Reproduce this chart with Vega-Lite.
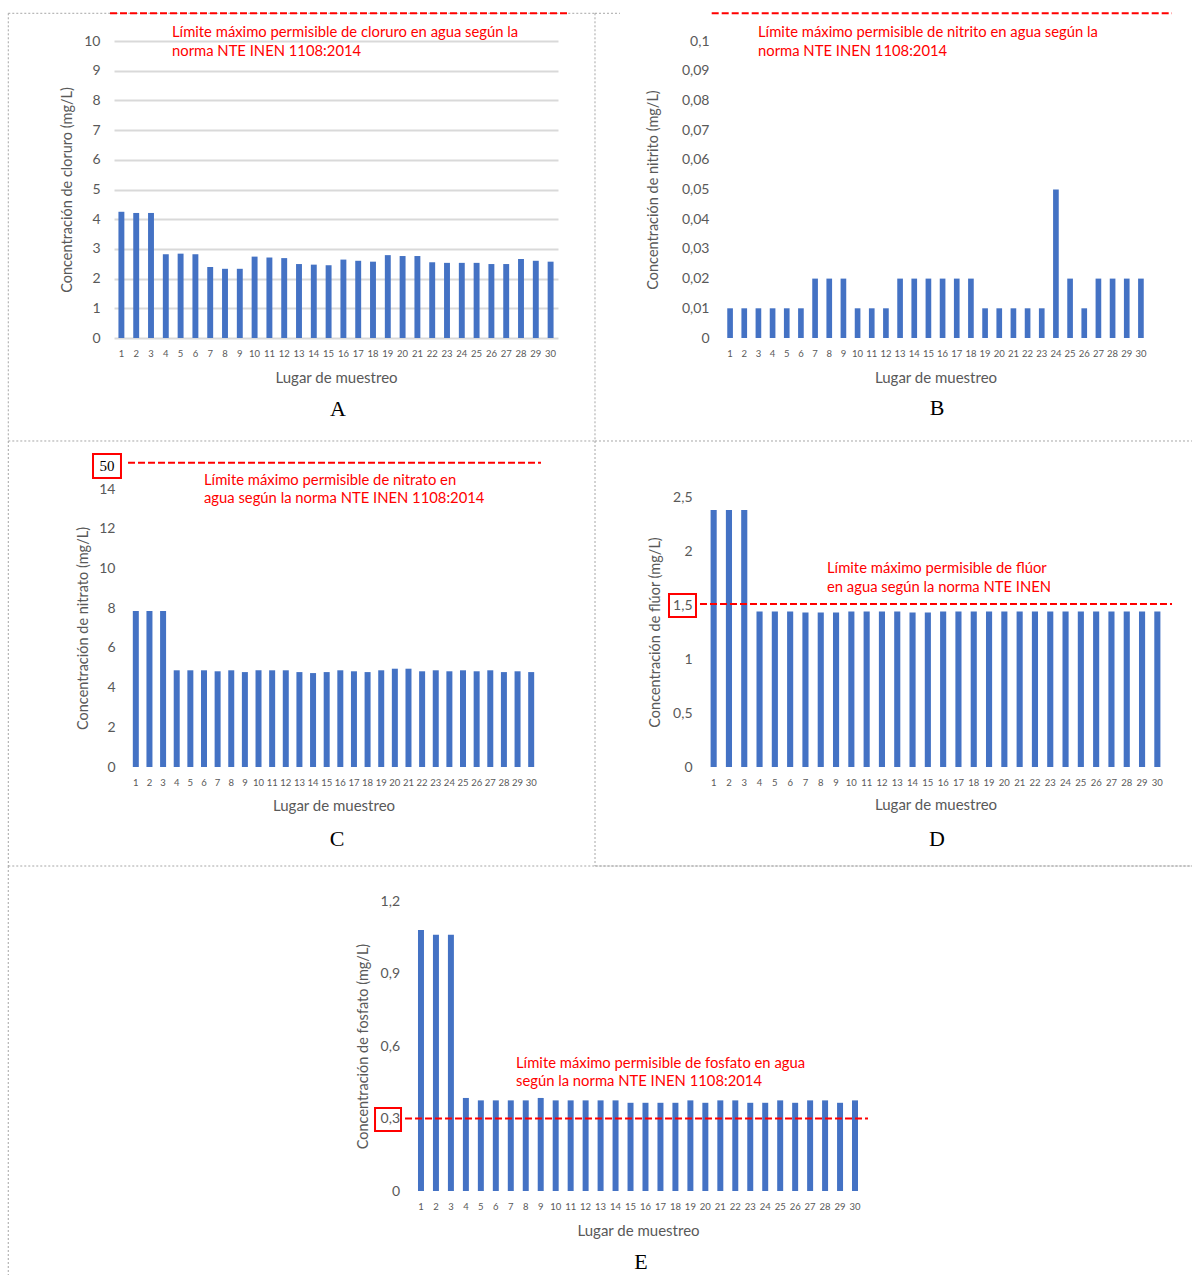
{
  "$schema": "https://vega.github.io/schema/vega-lite/v6.json",
  "width": 1192,
  "height": 1275,
  "autosize": "none",
  "padding": 0,
  "datasets": {
    "cloruro": [
      {"lugar": 1, "valor": 4.25}, {"lugar": 2, "valor": 4.21}, {"lugar": 3, "valor": 4.21}, {"lugar": 4, "valor": 2.82}, {"lugar": 5, "valor": 2.84}, {"lugar": 6, "valor": 2.82}, {"lugar": 7, "valor": 2.39}, {"lugar": 8, "valor": 2.33}, {"lugar": 9, "valor": 2.33}, {"lugar": 10, "valor": 2.74},
      {"lugar": 11, "valor": 2.71}, {"lugar": 12, "valor": 2.69}, {"lugar": 13, "valor": 2.49}, {"lugar": 14, "valor": 2.47}, {"lugar": 15, "valor": 2.45}, {"lugar": 16, "valor": 2.64}, {"lugar": 17, "valor": 2.6}, {"lugar": 18, "valor": 2.57}, {"lugar": 19, "valor": 2.79}, {"lugar": 20, "valor": 2.76},
      {"lugar": 21, "valor": 2.76}, {"lugar": 22, "valor": 2.55}, {"lugar": 23, "valor": 2.53}, {"lugar": 24, "valor": 2.53}, {"lugar": 25, "valor": 2.53}, {"lugar": 26, "valor": 2.49}, {"lugar": 27, "valor": 2.49}, {"lugar": 28, "valor": 2.66}, {"lugar": 29, "valor": 2.6}, {"lugar": 30, "valor": 2.57}
    ],
    "nitrito": [
      {"lugar": 1, "valor": 0.01}, {"lugar": 2, "valor": 0.01}, {"lugar": 3, "valor": 0.01}, {"lugar": 4, "valor": 0.01}, {"lugar": 5, "valor": 0.01}, {"lugar": 6, "valor": 0.01}, {"lugar": 7, "valor": 0.02}, {"lugar": 8, "valor": 0.02}, {"lugar": 9, "valor": 0.02}, {"lugar": 10, "valor": 0.01},
      {"lugar": 11, "valor": 0.01}, {"lugar": 12, "valor": 0.01}, {"lugar": 13, "valor": 0.02}, {"lugar": 14, "valor": 0.02}, {"lugar": 15, "valor": 0.02}, {"lugar": 16, "valor": 0.02}, {"lugar": 17, "valor": 0.02}, {"lugar": 18, "valor": 0.02}, {"lugar": 19, "valor": 0.01}, {"lugar": 20, "valor": 0.01},
      {"lugar": 21, "valor": 0.01}, {"lugar": 22, "valor": 0.01}, {"lugar": 23, "valor": 0.01}, {"lugar": 24, "valor": 0.05}, {"lugar": 25, "valor": 0.02}, {"lugar": 26, "valor": 0.01}, {"lugar": 27, "valor": 0.02}, {"lugar": 28, "valor": 0.02}, {"lugar": 29, "valor": 0.02}, {"lugar": 30, "valor": 0.02}
    ],
    "nitrato": [
      {"lugar": 1, "valor": 7.86}, {"lugar": 2, "valor": 7.86}, {"lugar": 3, "valor": 7.86}, {"lugar": 4, "valor": 4.87}, {"lugar": 5, "valor": 4.87}, {"lugar": 6, "valor": 4.87}, {"lugar": 7, "valor": 4.82}, {"lugar": 8, "valor": 4.87}, {"lugar": 9, "valor": 4.78}, {"lugar": 10, "valor": 4.87},
      {"lugar": 11, "valor": 4.87}, {"lugar": 12, "valor": 4.87}, {"lugar": 13, "valor": 4.78}, {"lugar": 14, "valor": 4.73}, {"lugar": 15, "valor": 4.78}, {"lugar": 16, "valor": 4.87}, {"lugar": 17, "valor": 4.82}, {"lugar": 18, "valor": 4.78}, {"lugar": 19, "valor": 4.87}, {"lugar": 20, "valor": 4.95},
      {"lugar": 21, "valor": 4.95}, {"lugar": 22, "valor": 4.82}, {"lugar": 23, "valor": 4.87}, {"lugar": 24, "valor": 4.82}, {"lugar": 25, "valor": 4.87}, {"lugar": 26, "valor": 4.82}, {"lugar": 27, "valor": 4.87}, {"lugar": 28, "valor": 4.78}, {"lugar": 29, "valor": 4.82}, {"lugar": 30, "valor": 4.78}
    ],
    "fluor": [
      {"lugar": 1, "valor": 2.38}, {"lugar": 2, "valor": 2.38}, {"lugar": 3, "valor": 2.38}, {"lugar": 4, "valor": 1.44}, {"lugar": 5, "valor": 1.44}, {"lugar": 6, "valor": 1.44}, {"lugar": 7, "valor": 1.43}, {"lugar": 8, "valor": 1.43}, {"lugar": 9, "valor": 1.43}, {"lugar": 10, "valor": 1.44},
      {"lugar": 11, "valor": 1.44}, {"lugar": 12, "valor": 1.44}, {"lugar": 13, "valor": 1.44}, {"lugar": 14, "valor": 1.43}, {"lugar": 15, "valor": 1.43}, {"lugar": 16, "valor": 1.44}, {"lugar": 17, "valor": 1.44}, {"lugar": 18, "valor": 1.44}, {"lugar": 19, "valor": 1.44}, {"lugar": 20, "valor": 1.44},
      {"lugar": 21, "valor": 1.44}, {"lugar": 22, "valor": 1.44}, {"lugar": 23, "valor": 1.44}, {"lugar": 24, "valor": 1.44}, {"lugar": 25, "valor": 1.44}, {"lugar": 26, "valor": 1.44}, {"lugar": 27, "valor": 1.44}, {"lugar": 28, "valor": 1.44}, {"lugar": 29, "valor": 1.44}, {"lugar": 30, "valor": 1.44}
    ],
    "fosfato": [
      {"lugar": 1, "valor": 1.08}, {"lugar": 2, "valor": 1.06}, {"lugar": 3, "valor": 1.06}, {"lugar": 4, "valor": 0.385}, {"lugar": 5, "valor": 0.375}, {"lugar": 6, "valor": 0.375}, {"lugar": 7, "valor": 0.375}, {"lugar": 8, "valor": 0.375}, {"lugar": 9, "valor": 0.385}, {"lugar": 10, "valor": 0.375},
      {"lugar": 11, "valor": 0.375}, {"lugar": 12, "valor": 0.375}, {"lugar": 13, "valor": 0.375}, {"lugar": 14, "valor": 0.375}, {"lugar": 15, "valor": 0.365}, {"lugar": 16, "valor": 0.365}, {"lugar": 17, "valor": 0.365}, {"lugar": 18, "valor": 0.365}, {"lugar": 19, "valor": 0.375}, {"lugar": 20, "valor": 0.365},
      {"lugar": 21, "valor": 0.375}, {"lugar": 22, "valor": 0.375}, {"lugar": 23, "valor": 0.365}, {"lugar": 24, "valor": 0.365}, {"lugar": 25, "valor": 0.375}, {"lugar": 26, "valor": 0.365}, {"lugar": 27, "valor": 0.375}, {"lugar": 28, "valor": 0.375}, {"lugar": 29, "valor": 0.365}, {"lugar": 30, "valor": 0.375}
    ]
  },
  "resolve": {"scale": {"x": "independent", "y": "independent"}, "axis": {"x": "independent", "y": "independent"}},
  "layer": [
    {
      "resolve": {"scale": {"x": "independent"}},
      "layer": [
        {
          "data": {"name": "cloruro"},
          "mark": {"type": "bar", "color": "#4472C4"},
          "encoding": {
            "x": {"field": "lugar", "type": "ordinal", "scale": {"range": [114, 558], "paddingInner": 0.6, "paddingOuter": 0.3}, "axis": {"orient": "bottom", "offset": -937, "title": "Lugar de muestreo", "titleY": 39, "titleBaseline": "middle"}},
            "y": {"field": "valor", "type": "quantitative", "scale": {"domain": [0, 10], "range": [338, 41], "nice": false}, "axis": {"orient": "left", "offset": -114, "title": "Concentración de cloruro (mg/L)", "values": [0, 1, 2, 3, 4, 5, 6, 7, 8, 9, 10], "tickCount": 50, "format": "d", "titleX": -46.3, "titleBaseline": "middle"}}
          }
        },
        {
          "data": {"values": [{}]},
          "layer": [
            {"mark": {"type": "rule", "color": "#a6a6a6", "strokeWidth": 1, "strokeDash": [2, 2]}, "encoding": {"x": {"datum": -0.2381, "type": "quantitative", "scale": {"domain": [0, 1], "range": [114, 558], "nice": false, "zero": false}, "axis": null}, "x2": {"datum": 1.0833}, "y": {"datum": 10.933, "type": "quantitative"}}},
            {"mark": {"type": "rule", "color": "#a6a6a6", "strokeWidth": 1, "strokeDash": [2, 2]}, "encoding": {"x": {"datum": -0.2381, "type": "quantitative", "scale": {"domain": [0, 1], "range": [114, 558], "nice": false, "zero": false}, "axis": null}, "y": {"datum": 10.933, "type": "quantitative"}, "y2": {"datum": -3.468}}},
            {"mark": {"type": "rule", "color": "#a6a6a6", "strokeWidth": 1, "strokeDash": [2, 2]}, "encoding": {"x": {"datum": 1.0833, "type": "quantitative", "scale": {"domain": [0, 1], "range": [114, 558], "nice": false, "zero": false}, "axis": null}, "y": {"datum": 10.933, "type": "quantitative"}, "y2": {"datum": -3.468}}},
            {"mark": {"type": "rule", "color": "#a6a6a6", "strokeWidth": 1, "strokeDash": [2, 2]}, "encoding": {"x": {"datum": -0.2381, "type": "quantitative", "scale": {"domain": [0, 1], "range": [114, 558], "nice": false, "zero": false}, "axis": null}, "x2": {"datum": 1.0833}, "y": {"datum": -3.468, "type": "quantitative"}}},
            {"mark": {"type": "rule", "color": "#ff0000", "strokeWidth": 2, "strokeDash": [7, 3]}, "encoding": {"x": {"datum": -0.009, "type": "quantitative", "scale": {"domain": [0, 1], "range": [114, 558], "nice": false, "zero": false}, "axis": null}, "x2": {"datum": 1.0248}, "y": {"datum": 10.933, "type": "quantitative"}}},
            {"mark": {"type": "text", "align": "left", "baseline": "alphabetic", "color": "#ff0000", "font": "Lato", "fontSize": 14.8}, "encoding": {"x": {"datum": 0.1306, "type": "quantitative", "scale": {"domain": [0, 1], "range": [114, 558], "nice": false, "zero": false}, "axis": null}, "y": {"datum": 10.125, "type": "quantitative"}, "text": {"value": "Límite máximo permisible de cloruro en agua según la"}}},
            {"mark": {"type": "text", "align": "left", "baseline": "alphabetic", "color": "#ff0000", "font": "Lato", "fontSize": 14.8}, "encoding": {"x": {"datum": 0.1306, "type": "quantitative", "scale": {"domain": [0, 1], "range": [114, 558], "nice": false, "zero": false}, "axis": null}, "y": {"datum": 9.505, "type": "quantitative"}, "text": {"value": "norma NTE INEN 1108:2014"}}},
            {"mark": {"type": "text", "align": "center", "baseline": "alphabetic", "color": "#000000", "font": "Liberation Serif", "fontSize": 22}, "encoding": {"x": {"datum": 0.5045, "type": "quantitative", "scale": {"domain": [0, 1], "range": [114, 558], "nice": false, "zero": false}, "axis": null}, "y": {"datum": -2.626, "type": "quantitative"}, "text": {"value": "A"}}}
          ]
        }
      ]
    },
    {
      "resolve": {"scale": {"x": "independent"}},
      "layer": [
        {
          "data": {"name": "nitrito"},
          "mark": {"type": "bar", "color": "#4472C4"},
          "encoding": {
            "x": {"field": "lugar", "type": "ordinal", "scale": {"range": [723, 1148], "paddingInner": 0.6, "paddingOuter": 0.3}, "axis": {"orient": "bottom", "offset": -937, "title": "Lugar de muestreo", "titleY": 39, "titleBaseline": "middle"}},
            "y": {"field": "valor", "type": "quantitative", "scale": {"domain": [0, 0.1], "range": [338, 41], "nice": false}, "axis": {"orient": "left", "offset": -723, "title": "Concentración de nitrito (mg/L)", "values": [0, 0.01, 0.02, 0.03, 0.04, 0.05, 0.06, 0.07, 0.08, 0.09, 0.1], "tickCount": 50, "format": ".2~f", "labelExpr": "replace(datum.label, '.', ',')", "titleX": -70, "titleBaseline": "middle"}}
          }
        },
        {
          "data": {"values": [{}]},
          "layer": [
            {"mark": {"type": "rule", "color": "#a6a6a6", "strokeWidth": 1, "strokeDash": [2, 2]}, "encoding": {"x": {"datum": -0.3012, "type": "quantitative", "scale": {"domain": [0, 1], "range": [723, 1148], "nice": false, "zero": false}, "axis": null}, "x2": {"datum": -0.2424}, "y": {"datum": 0.10933, "type": "quantitative"}}},
            {"mark": {"type": "rule", "color": "#a6a6a6", "strokeWidth": 1, "strokeDash": [2, 2]}, "encoding": {"x": {"datum": -0.3012, "type": "quantitative", "scale": {"domain": [0, 1], "range": [723, 1148], "nice": false, "zero": false}, "axis": null}, "x2": {"datum": 1.1035}, "y": {"datum": -0.03468, "type": "quantitative"}}},
            {"mark": {"type": "rule", "color": "#ff0000", "strokeWidth": 2, "strokeDash": [7, 3]}, "encoding": {"x": {"datum": -0.0266, "type": "quantitative", "scale": {"domain": [0, 1], "range": [723, 1148], "nice": false, "zero": false}, "axis": null}, "x2": {"datum": 1.0565}, "y": {"datum": 0.10933, "type": "quantitative"}}},
            {"mark": {"type": "text", "align": "left", "baseline": "alphabetic", "color": "#ff0000", "font": "Lato", "fontSize": 14.8}, "encoding": {"x": {"datum": 0.0824, "type": "quantitative", "scale": {"domain": [0, 1], "range": [723, 1148], "nice": false, "zero": false}, "axis": null}, "y": {"datum": 0.10125, "type": "quantitative"}, "text": {"value": "Límite máximo permisible de nitrito en agua según la"}}},
            {"mark": {"type": "text", "align": "left", "baseline": "alphabetic", "color": "#ff0000", "font": "Lato", "fontSize": 14.8}, "encoding": {"x": {"datum": 0.0824, "type": "quantitative", "scale": {"domain": [0, 1], "range": [723, 1148], "nice": false, "zero": false}, "axis": null}, "y": {"datum": 0.09505, "type": "quantitative"}, "text": {"value": "norma NTE INEN 1108:2014"}}},
            {"mark": {"type": "text", "align": "center", "baseline": "alphabetic", "color": "#000000", "font": "Liberation Serif", "fontSize": 22}, "encoding": {"x": {"datum": 0.5035, "type": "quantitative", "scale": {"domain": [0, 1], "range": [723, 1148], "nice": false, "zero": false}, "axis": null}, "y": {"datum": -0.02609, "type": "quantitative"}, "text": {"value": "B"}}}
          ]
        }
      ]
    },
    {
      "resolve": {"scale": {"x": "independent"}},
      "layer": [
        {
          "data": {"name": "nitrato"},
          "mark": {"type": "bar", "color": "#4472C4"},
          "encoding": {
            "x": {"field": "lugar", "type": "ordinal", "scale": {"range": [129, 538], "paddingInner": 0.56, "paddingOuter": 0.28}, "axis": {"orient": "bottom", "offset": -508, "title": "Lugar de muestreo", "titleY": 38, "titleBaseline": "middle"}},
            "y": {"field": "valor", "type": "quantitative", "scale": {"domain": [0, 14], "range": [767, 489], "nice": false}, "axis": {"orient": "left", "offset": -129, "title": "Concentración de nitrato (mg/L)", "values": [0, 2, 4, 6, 8, 10, 12, 14], "tickCount": 50, "format": "d", "titleX": -46, "titleBaseline": "middle"}}
          }
        },
        {
          "data": {"values": [{}]},
          "layer": [
            {"mark": {"type": "rule", "color": "#a6a6a6", "strokeWidth": 1, "strokeDash": [2, 2]}, "encoding": {"x": {"datum": -0.2951, "type": "quantitative", "scale": {"domain": [0, 1], "range": [129, 538], "nice": false, "zero": false}, "axis": null}, "y": {"datum": 16.417, "type": "quantitative"}, "y2": {"datum": -4.986}}},
            {"mark": {"type": "rule", "color": "#a6a6a6", "strokeWidth": 1, "strokeDash": [2, 2]}, "encoding": {"x": {"datum": 1.1394, "type": "quantitative", "scale": {"domain": [0, 1], "range": [129, 538], "nice": false, "zero": false}, "axis": null}, "y": {"datum": 16.417, "type": "quantitative"}, "y2": {"datum": -4.986}}},
            {"mark": {"type": "rule", "color": "#ff0000", "strokeWidth": 2, "strokeDash": [7, 3]}, "encoding": {"x": {"datum": -0.0024, "type": "quantitative", "scale": {"domain": [0, 1], "range": [129, 538], "nice": false, "zero": false}, "axis": null}, "x2": {"datum": 1.0073}, "y": {"datum": 15.325, "type": "quantitative"}}},
            {"mark": {"type": "rect", "filled": false, "color": "#ff0000", "strokeWidth": 2}, "encoding": {"x": {"datum": -0.088, "type": "quantitative", "scale": {"domain": [0, 1], "range": [129, 538], "nice": false, "zero": false}, "axis": null}, "x2": {"datum": -0.0196}, "y": {"datum": 15.763, "type": "quantitative"}, "y2": {"datum": 14.554}}},
            {"mark": {"type": "text", "align": "center", "baseline": "alphabetic", "color": "#000000", "font": "Liberation Serif", "fontSize": 15}, "encoding": {"x": {"datum": -0.0538, "type": "quantitative", "scale": {"domain": [0, 1], "range": [129, 538], "nice": false, "zero": false}, "axis": null}, "y": {"datum": 14.907, "type": "quantitative"}, "text": {"value": "50"}}},
            {"mark": {"type": "text", "align": "left", "baseline": "alphabetic", "color": "#ff0000", "font": "Lato", "fontSize": 14.8}, "encoding": {"x": {"datum": 0.1834, "type": "quantitative", "scale": {"domain": [0, 1], "range": [129, 538], "nice": false, "zero": false}, "axis": null}, "y": {"datum": 14.202, "type": "quantitative"}, "text": {"value": "Límite máximo permisible de nitrato en"}}},
            {"mark": {"type": "text", "align": "left", "baseline": "alphabetic", "color": "#ff0000", "font": "Lato", "fontSize": 14.8}, "encoding": {"x": {"datum": 0.1834, "type": "quantitative", "scale": {"domain": [0, 1], "range": [129, 538], "nice": false, "zero": false}, "axis": null}, "y": {"datum": 13.27, "type": "quantitative"}, "text": {"value": "agua según la norma NTE INEN 1108:2014"}}},
            {"mark": {"type": "text", "align": "center", "baseline": "alphabetic", "color": "#000000", "font": "Liberation Serif", "fontSize": 22}, "encoding": {"x": {"datum": 0.5086, "type": "quantitative", "scale": {"domain": [0, 1], "range": [129, 538], "nice": false, "zero": false}, "axis": null}, "y": {"datum": -3.978, "type": "quantitative"}, "text": {"value": "C"}}}
          ]
        }
      ]
    },
    {
      "resolve": {"scale": {"x": "independent"}},
      "layer": [
        {
          "data": {"name": "fluor"},
          "mark": {"type": "bar", "color": "#4472C4"},
          "encoding": {
            "x": {"field": "lugar", "type": "ordinal", "scale": {"range": [706, 1165], "paddingInner": 0.6, "paddingOuter": 0.3}, "axis": {"orient": "bottom", "offset": -508, "title": "Lugar de muestreo", "titleY": 37, "titleBaseline": "middle"}},
            "y": {"field": "valor", "type": "quantitative", "scale": {"domain": [0, 2.5], "range": [767, 497], "nice": false}, "axis": {"orient": "left", "offset": -706, "title": "Concentración de flúor (mg/L)", "values": [0, 0.5, 1, 1.5, 2, 2.5], "tickCount": 50, "format": ".1~f", "labelExpr": "replace(datum.label, '.', ',')", "titleX": -51, "titleBaseline": "middle"}}
          }
        },
        {
          "data": {"values": [{}]},
          "layer": [
            {"mark": {"type": "rule", "color": "#a6a6a6", "strokeWidth": 1, "strokeDash": [2, 2]}, "encoding": {"x": {"datum": -0.2418, "type": "quantitative", "scale": {"domain": [0, 1], "range": [706, 1165], "nice": false, "zero": false}, "axis": null}, "x2": {"datum": 1.0588}, "y": {"datum": -0.9167, "type": "quantitative"}}},
            {"mark": {"type": "rule", "color": "#ff0000", "strokeWidth": 2, "strokeDash": [7, 3]}, "encoding": {"x": {"datum": -0.0131, "type": "quantitative", "scale": {"domain": [0, 1], "range": [706, 1165], "nice": false, "zero": false}, "axis": null}, "x2": {"datum": 1.0153}, "y": {"datum": 1.51, "type": "quantitative"}}},
            {"mark": {"type": "rect", "filled": false, "color": "#ff0000", "strokeWidth": 2}, "encoding": {"x": {"datum": -0.0806, "type": "quantitative", "scale": {"domain": [0, 1], "range": [706, 1165], "nice": false, "zero": false}, "axis": null}, "x2": {"datum": -0.0218}, "y": {"datum": 1.6019, "type": "quantitative"}, "y2": {"datum": 1.3889}}},
            {"mark": {"type": "text", "align": "left", "baseline": "alphabetic", "color": "#ff0000", "font": "Lato", "fontSize": 14.8}, "encoding": {"x": {"datum": 0.2636, "type": "quantitative", "scale": {"domain": [0, 1], "range": [706, 1165], "nice": false, "zero": false}, "axis": null}, "y": {"datum": 1.7935, "type": "quantitative"}, "text": {"value": "Límite máximo permisible de flúor"}}},
            {"mark": {"type": "text", "align": "left", "baseline": "alphabetic", "color": "#ff0000", "font": "Lato", "fontSize": 14.8}, "encoding": {"x": {"datum": 0.2636, "type": "quantitative", "scale": {"domain": [0, 1], "range": [706, 1165], "nice": false, "zero": false}, "axis": null}, "y": {"datum": 1.6204, "type": "quantitative"}, "text": {"value": "en agua según la norma NTE INEN"}}},
            {"mark": {"type": "text", "align": "center", "baseline": "alphabetic", "color": "#000000", "font": "Liberation Serif", "fontSize": 22}, "encoding": {"x": {"datum": 0.5033, "type": "quantitative", "scale": {"domain": [0, 1], "range": [706, 1165], "nice": false, "zero": false}, "axis": null}, "y": {"datum": -0.7315, "type": "quantitative"}, "text": {"value": "D"}}}
          ]
        }
      ]
    },
    {
      "resolve": {"scale": {"x": "independent"}},
      "layer": [
        {
          "data": {"name": "fosfato"},
          "mark": {"type": "bar", "color": "#4472C4"},
          "encoding": {
            "x": {"field": "lugar", "type": "ordinal", "scale": {"range": [413.5, 862.5], "paddingInner": 0.6, "paddingOuter": 0.3}, "axis": {"orient": "bottom", "offset": -84, "title": "Lugar de muestreo", "titleY": 39, "titleBaseline": "middle"}},
            "y": {"field": "valor", "type": "quantitative", "scale": {"domain": [0, 1.2], "range": [1191, 901], "nice": false}, "axis": {"orient": "left", "offset": -413.5, "title": "Concentración de fosfato (mg/L)", "values": [0, 0.3, 0.6, 0.9, 1.2], "tickCount": 50, "format": ".1~f", "labelExpr": "replace(datum.label, '.', ',')", "titleX": -50.5, "titleBaseline": "middle"}}
          }
        },
        {
          "data": {"values": [{}]},
          "layer": [
            {"mark": {"type": "rule", "color": "#a6a6a6", "strokeWidth": 1, "strokeDash": [2, 2]}, "encoding": {"x": {"datum": -0.9025, "type": "quantitative", "scale": {"domain": [0, 1], "range": [413.5, 862.5], "nice": false, "zero": false}, "axis": null}, "x2": {"datum": 1.7339}, "y": {"datum": 1.3448, "type": "quantitative"}}},
            {"mark": {"type": "rule", "color": "#a6a6a6", "strokeWidth": 1, "strokeDash": [2, 2]}, "encoding": {"x": {"datum": -0.9025, "type": "quantitative", "scale": {"domain": [0, 1], "range": [413.5, 862.5], "nice": false, "zero": false}, "axis": null}, "y": {"datum": 1.3448, "type": "quantitative"}, "y2": {"datum": -0.3476}}},
            {"mark": {"type": "rule", "color": "#ff0000", "strokeWidth": 2, "strokeDash": [7, 3]}, "encoding": {"x": {"datum": -0.0189, "type": "quantitative", "scale": {"domain": [0, 1], "range": [413.5, 862.5], "nice": false, "zero": false}, "axis": null}, "x2": {"datum": 1.0122}, "y": {"datum": 0.3, "type": "quantitative"}}},
            {"mark": {"type": "rect", "filled": false, "color": "#ff0000", "strokeWidth": 2}, "encoding": {"x": {"datum": -0.0857, "type": "quantitative", "scale": {"domain": [0, 1], "range": [413.5, 862.5], "nice": false, "zero": false}, "axis": null}, "x2": {"datum": -0.0278}, "y": {"datum": 0.3434, "type": "quantitative"}, "y2": {"datum": 0.2483}}},
            {"mark": {"type": "text", "align": "left", "baseline": "alphabetic", "color": "#ff0000", "font": "Lato", "fontSize": 14.8}, "encoding": {"x": {"datum": 0.2283, "type": "quantitative", "scale": {"domain": [0, 1], "range": [413.5, 862.5], "nice": false, "zero": false}, "axis": null}, "y": {"datum": 0.509, "type": "quantitative"}, "text": {"value": "Límite máximo permisible de fosfato en agua"}}},
            {"mark": {"type": "text", "align": "left", "baseline": "alphabetic", "color": "#ff0000", "font": "Lato", "fontSize": 14.8}, "encoding": {"x": {"datum": 0.2283, "type": "quantitative", "scale": {"domain": [0, 1], "range": [413.5, 862.5], "nice": false, "zero": false}, "axis": null}, "y": {"datum": 0.4345, "type": "quantitative"}, "text": {"value": "según la norma NTE INEN 1108:2014"}}},
            {"mark": {"type": "text", "align": "center", "baseline": "alphabetic", "color": "#000000", "font": "Liberation Serif", "fontSize": 22}, "encoding": {"x": {"datum": 0.5067, "type": "quantitative", "scale": {"domain": [0, 1], "range": [413.5, 862.5], "nice": false, "zero": false}, "axis": null}, "y": {"datum": -0.3248, "type": "quantitative"}, "text": {"value": "E"}}}
          ]
        }
      ]
    }
  ],
  "config": {
    "view": {"stroke": null},
    "font": "Lato",
    "axis": {"labelFont": "Lato", "titleFont": "Lato", "labelColor": "#595959", "titleColor": "#595959", "titleFontWeight": "normal", "domain": false, "ticks": false, "gridColor": "#d9d9d9", "gridWidth": 2, "labelOverlap": false},
    "axisX": {"grid": false, "labelFontSize": 9.5, "labelPadding": 10, "titleFontSize": 15, "labelAngle": 0},
    "axisY": {"grid": true, "labelFontSize": 14, "labelPadding": 14, "titleFontSize": 14.5}
  }
}
